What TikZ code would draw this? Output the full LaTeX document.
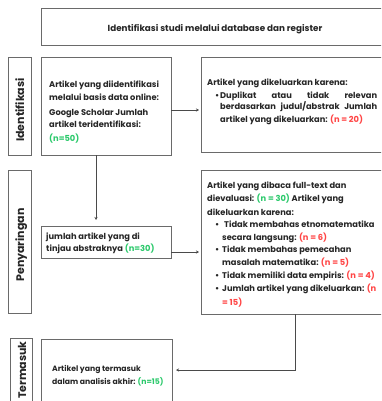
\documentclass[tikz,border=0pt]{standalone}
\usepackage{fontspec}
\setmainfont{Poppins}
\usetikzlibrary{arrows.meta}
\definecolor{ngreen}{HTML}{2BC96B}
\definecolor{nred}{HTML}{FF4545}
\definecolor{boxgray}{HTML}{6A6A6A}
\definecolor{arrgray}{HTML}{4A4A4A}
\tikzset{
  box/.style={draw=boxgray, line width=0.9pt, anchor=north west, inner sep=0pt, outer sep=0pt},
  ln/.style={anchor=base west, inner sep=0pt, font=\fontsize{8.3}{10}\selectfont\bfseries, text=black!85},
  lab/.style={rotate=90, anchor=base, inner sep=0pt, font=\fontsize{11}{12}\selectfont\bfseries, text=black!85},
  arr/.style={draw=arrgray, line width=0.8pt, -{Stealth[length=3pt,width=3pt]}},
}
\newcommand{\gn}[1]{\textcolor{ngreen}{#1}}
\newcommand{\rn}[1]{\textcolor{nred}{#1}}
\begin{document}
\begin{tikzpicture}[x=1pt,y=-1pt]
\useasboundingbox (0,0) rectangle (381,401);
\clip (0,0) rectangle (381,401);
\fill[white] (0,0) rectangle (381,401);
% boxes
\node[box, minimum width=360pt, minimum height=37pt] (top) at (41,8) {};
\node[box, minimum width=23pt, minimum height=98pt] (lab1) at (8,57) {};
\node[box, minimum width=130pt, minimum height=98pt] (b1) at (41,57) {};
\node[box, minimum width=200pt, minimum height=95pt] (r1) at (201,57) {};
\node[box, minimum width=23pt, minimum height=143pt] (lab2) at (8,170) {};
\node[box, minimum width=130pt, minimum height=32pt] (b2) at (41,226) {};
\node[box, minimum width=200pt, minimum height=144pt] (r2) at (201,170) {};
\node[box, minimum width=22pt, minimum height=75pt] (lab3) at (10,338) {};
\node[box, minimum width=131pt, minimum height=75pt] (b3) at (41,339) {};
% title
\node[ln, anchor=base, font=\fontsize{8.8}{10}\selectfont\bfseries] (tt) at (215,32) {Identifikasi studi melalui database dan register};
% side labels
\node[lab] (l1) at (24,110) {Identifikasi};
\node[lab] (l2) at (24,245) {Penyaringan};
\node[lab] (l3) at (26,370) {Termasuk};
% box 1
\node[ln] (t1a) at (49,88) {Artikel yang diidentifikasi};
\node[ln] (t1b) at (49,101) {melalui basis data online:};
\node[ln] (t1c) at (49,115) {Google Scholar Jumlah};
\node[ln] (t1d) at (49,128) {artikel teridentifikasi:};
\node[ln] (t1e) at (49,141) {\gn{(n=50)}};
% right box 1
\node[ln] (s1a) at (207,86) {Artikel yang dikeluarkan karena:};
\node[ln] (s1b) at (215,99) {\textbullet};
\node[ln] (s1c) at (220,99) {\makebox[157pt][s]{Duplikat atau tidak relevan}};
\node[ln] (s1d) at (220,110) {\makebox[157pt][s]{berdasarkan judul/abstrak Jumlah}};
\node[ln] (s1e) at (220,122) {artikel yang dikeluarkan: \rn{(n = 20)}};
% box 2
\node[ln] (t2a) at (46,239) {jumlah artikel yang di};
\node[ln] (t2b) at (46,251) {tinjau abstraknya \gn{(n=30)}};
% right box 2
\node[ln] (s2a) at (207,188) {Artikel yang dibaca full-text dan};
\node[ln] (s2b) at (207,201) {dievaluasi: \gn{(n = 30)} Artikel yang};
\node[ln] (s2c) at (207,215) {dikeluarkan karena:};
\node[ln] (s2d) at (215,227) {\textbullet};
\node[ln] (s2e) at (224,227) {Tidak membahas etnomatematika};
\node[ln] (s2f) at (222,240) {secara langsung: \rn{(n = 6)}};
\node[ln] (s2g) at (215,252) {\textbullet};
\node[ln] (s2h) at (222,252) {Tidak membahas pemecahan};
\node[ln] (s2i) at (222,265.5) {masalah matematika: \rn{(n = 5)}};
\node[ln] (s2j) at (215,278) {\textbullet};
\node[ln] (s2k) at (222,278) {Tidak memiliki data empiris: \rn{(n = 4)}};
\node[ln] (s2l) at (215,291) {\textbullet};
\node[ln] (s2m) at (222,291) {Jumlah artikel yang dikeluarkan: \rn{(n}};
\node[ln] (s2n) at (222,305) {\rn{= 15)}};
% box 3
\node[ln, font=\fontsize{7.7}{9}\selectfont\bfseries] (t3a) at (52,371) {Artikel yang termasuk};
\node[ln, font=\fontsize{7.7}{9}\selectfont\bfseries] (t3b) at (52,384) {dalam analisis akhir: \gn{(n=15)}};
% connectors
\draw[arr, shorten >=2pt] ([yshift=-4pt]b1.east) -- ([yshift=-5.5pt]r1.west);
\draw[arr, shorten >=6pt] ([xshift=-10pt]b1.south) -- ([xshift=-10pt]b2.north);
\draw[arr, shorten >=2pt] ([yshift=-10pt]b2.east) -- ([yshift=-10pt]r2.west);
\draw[arr, shorten >=4pt] ([xshift=-6pt]r2.south) |- ([yshift=6.5pt]b3.east);
\end{tikzpicture}
\end{document}
